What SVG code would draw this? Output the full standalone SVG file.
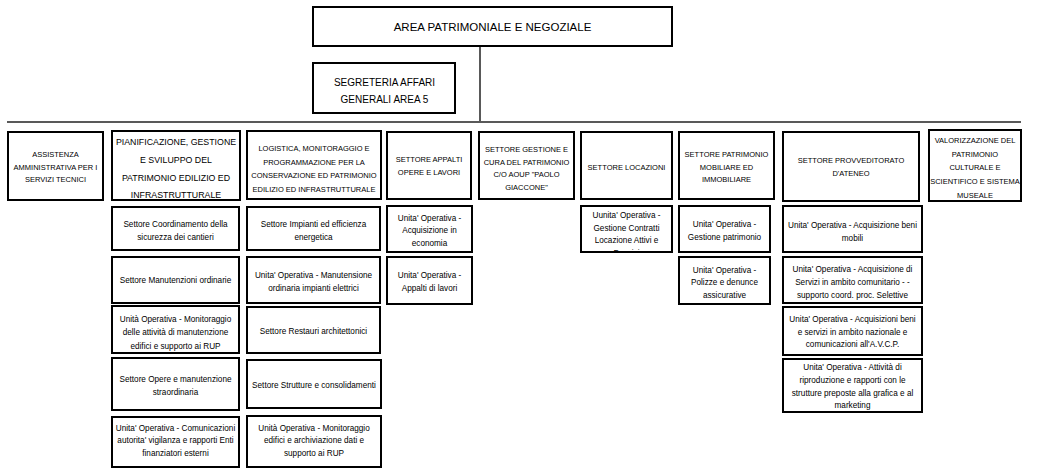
<svg xmlns="http://www.w3.org/2000/svg" width="1040" height="474" viewBox="0 0 1040 474">
<style>
.b{fill:#fff;stroke:#000;stroke-width:2}
.t{font-family:"Liberation Sans",Arial,sans-serif;fill:#000;text-anchor:middle;dominant-baseline:central}
.h{font-size:7.5px}
.s{font-size:8.2px}
.c{stroke:#595959;stroke-width:2;fill:none}
</style>
<defs>
<clipPath id="clipF1"><rect x="582" y="207" width="89" height="44"/></clipPath>
</defs>
<rect width="1040" height="474" fill="#fff"/>
<g id="connectors">
<line class="c" x1="480" y1="46" x2="480" y2="122"/>
<line class="c" x1="7" y1="122" x2="1021" y2="122"/>
</g>
<g id="top">
<rect class="b" x="313" y="7" width="359" height="39"/>
<text class="t" x="492.5" y="27" font-size="11.5">AREA PATRIMONIALE E NEGOZIALE</text>
</g>
<g id="segreteria">
<rect class="b" x="313" y="63" width="142" height="50"/>
<text class="t" x="384.5" font-size="10"><tspan x="384.5" y="81.7">SEGRETERIA AFFARI</tspan><tspan x="384.5" y="99">GENERALI AREA 5</tspan></text>
</g>
<g id="assistenza">
<rect class="b" x="8" y="132" width="95" height="68"/>
<text class="t h"><tspan x="55.5" y="154">ASSISTENZA</tspan><tspan x="55.5" y="166.5">AMMINISTRATIVA PER I</tspan><tspan x="55.5" y="179">SERVIZI TECNICI</tspan></text>
</g>
<g id="pianificazione">
<rect class="b" x="112" y="131" width="128" height="69"/>
<text class="t" font-size="8.8"><tspan x="176" y="142">PIANIFICAZIONE, GESTIONE</tspan><tspan x="176" y="160">E SVILUPPO DEL</tspan><tspan x="176" y="178">PATRIMONIO EDILIZIO ED</tspan><tspan x="176" y="195">INFRASTRUTTURALE</tspan></text>
</g>
<g id="logistica">
<rect class="b" x="247" y="131" width="134" height="68"/>
<text class="t h"><tspan x="314" y="148">LOGISTICA, MONITORAGGIO E</tspan><tspan x="314" y="161.5">PROGRAMMAZIONE PER LA</tspan><tspan x="314" y="175">CONSERVAZIONE ED PATRIMONIO</tspan><tspan x="314" y="188.5">EDILIZIO ED INFRASTRUTTURALE</tspan></text>
</g>
<g id="appalti">
<rect class="b" x="387" y="132" width="84" height="67"/>
<text class="t h"><tspan x="429" y="159">SETTORE APPALTI</tspan><tspan x="429" y="172">OPERE E LAVORI</tspan></text>
</g>
<g id="gestione-cura">
<rect class="b" x="479" y="132" width="95" height="67"/>
<text class="t h"><tspan x="526.5" y="149">SETTORE GESTIONE E</tspan><tspan x="526.5" y="161.7">CURA DEL PATRIMONIO</tspan><tspan x="526.5" y="174.4">C/O AOUP "PAOLO</tspan><tspan x="526.5" y="187">GIACCONE"</tspan></text>
</g>
<g id="locazioni">
<rect class="b" x="581" y="132" width="91" height="67"/>
<text class="t h" x="626.5" y="167">SETTORE LOCAZIONI</text>
</g>
<g id="patrimonio-mobiliare">
<rect class="b" x="679" y="132" width="95" height="67"/>
<text class="t h"><tspan x="726.5" y="154">SETTORE PATRIMONIO</tspan><tspan x="726.5" y="166.5">MOBILIARE ED</tspan><tspan x="726.5" y="179">IMMOBILIARE</tspan></text>
</g>
<g id="provveditorato">
<rect class="b" x="783" y="132" width="136" height="69"/>
<text class="t h"><tspan x="851" y="160">SETTORE PROVVEDITORATO</tspan><tspan x="851" y="173">D'ATENEO</tspan></text>
</g>
<g id="valorizzazione">
<rect class="b" x="929" y="130" width="92" height="71"/>
<text class="t h"><tspan x="975" y="140">VALORIZZAZIONE DEL</tspan><tspan x="975" y="153.7">PATRIMONIO</tspan><tspan x="975" y="167.4">CULTURALE E</tspan><tspan x="975" y="181">SCIENTIFICO E SISTEMA</tspan><tspan x="975" y="194.7">MUSEALE</tspan></text>
</g>
<g id="b1">
<rect class="b" x="112" y="207" width="127" height="43"/>
<text class="t s"><tspan x="175.5" y="224">Settore Coordinamento della</tspan><tspan x="175.5" y="237">sicurezza dei cantieri</tspan></text>
</g>
<g id="b2">
<rect class="b" x="112" y="257" width="127" height="46"/>
<text class="t s" x="175.5" y="280">Settore Manutenzioni ordinarie</text>
</g>
<g id="b3">
<rect class="b" x="112" y="306" width="127" height="47"/>
<text class="t s"><tspan x="175.5" y="318.5">Unità Operativa - Monitoraggio</tspan><tspan x="175.5" y="332">delle attività di manutenzione</tspan><tspan x="175.5" y="345.5">edifici e supporto ai RUP</tspan></text>
</g>
<g id="b4">
<rect class="b" x="112" y="358" width="127" height="52"/>
<text class="t s"><tspan x="175.5" y="378.5">Settore Opere e manutenzione</tspan><tspan x="175.5" y="391.5">straordinaria</tspan></text>
</g>
<g id="b5">
<rect class="b" x="112" y="417" width="127" height="50"/>
<text class="t s"><tspan x="175.5" y="427.5">Unita' Operativa - Comunicazioni</tspan><tspan x="175.5" y="440">autorita' vigilanza e rapporti Enti</tspan><tspan x="175.5" y="452.5">finanziatori esterni</tspan></text>
</g>
<g id="c1">
<rect class="b" x="247" y="207" width="133" height="43"/>
<text class="t s"><tspan x="313.5" y="224">Settore Impianti ed efficienza</tspan><tspan x="313.5" y="237">energetica</tspan></text>
</g>
<g id="c2">
<rect class="b" x="247" y="257" width="133" height="46"/>
<text class="t s"><tspan x="313.5" y="275">Unita' Operativa - Manutensione</tspan><tspan x="313.5" y="288">ordinaria impianti elettrici</tspan></text>
</g>
<g id="c3">
<rect class="b" x="247" y="307" width="133" height="46"/>
<text class="t s" x="313.5" y="331">Settore Restauri architettonici</text>
</g>
<g id="c4">
<rect class="b" x="247" y="360" width="134" height="48"/>
<text class="t s" x="314" y="385">Settore Strutture e consolidamenti</text>
</g>
<g id="c5">
<rect class="b" x="247" y="416" width="134" height="51"/>
<text class="t s"><tspan x="314" y="427.5">Unità Operativa - Monitoraggio</tspan><tspan x="314" y="440">edifici e archiviazione dati e</tspan><tspan x="314" y="453">supporto ai RUP</tspan></text>
</g>
<g id="d1">
<rect class="b" x="387" y="206" width="85" height="46"/>
<text class="t s"><tspan x="429.5" y="217.5">Unita' Operativa -</tspan><tspan x="429.5" y="230">Acquisizione in</tspan><tspan x="429.5" y="242.5">economia</tspan></text>
</g>
<g id="d2">
<rect class="b" x="387" y="257" width="85" height="47"/>
<text class="t s"><tspan x="429.5" y="274.5">Unita' Operativa -</tspan><tspan x="429.5" y="288">Appalti di lavori</tspan></text>
</g>
<g id="f1">
<rect class="b" x="581" y="206" width="91" height="46"/>
<text class="t s" clip-path="url(#clipF1)"><tspan x="626.5" y="215">Uunita' Operativa -</tspan><tspan x="626.5" y="227.5">Gestione Contratti</tspan><tspan x="626.5" y="240">Locazione Attivi e</tspan><tspan x="626.5" y="252.5">Passivi</tspan></text>
</g>
<g id="g1">
<rect class="b" x="679" y="206" width="91" height="46"/>
<text class="t s"><tspan x="724.5" y="224">Unita' Operativa -</tspan><tspan x="724.5" y="237">Gestione patrimonio</tspan></text>
</g>
<g id="g2">
<rect class="b" x="679" y="257" width="91" height="47"/>
<text class="t s"><tspan x="724.5" y="269.5">Unita' Operativa -</tspan><tspan x="724.5" y="282">Polizze e denunce</tspan><tspan x="724.5" y="294.5">assicurative</tspan></text>
</g>
<g id="h1">
<rect class="b" x="783" y="206" width="139" height="46"/>
<text class="t s"><tspan x="852.5" y="225">Unita' Operativa - Acquisizione beni</tspan><tspan x="852.5" y="237.5">mobili</tspan></text>
</g>
<g id="h2">
<rect class="b" x="783" y="257" width="139" height="46"/>
<text class="t s"><tspan x="852.5" y="268.5">Unita' Operativa - Acquisizione di</tspan><tspan x="852.5" y="281.5">Servizi in ambito comunitario - -</tspan><tspan x="852.5" y="294.5">supporto coord. proc. Selettive</tspan></text>
</g>
<g id="h3">
<rect class="b" x="783" y="307" width="139" height="48"/>
<text class="t s"><tspan x="852.5" y="318.5">Unita' Operativa - Acquisizioni beni</tspan><tspan x="852.5" y="331.5">e servizi in ambito nazionale e</tspan><tspan x="852.5" y="344">comunicazioni all'A.V.C.P.</tspan></text>
</g>
<g id="h4">
<rect class="b" x="783" y="359" width="139" height="53"/>
<text class="t s"><tspan x="852.5" y="367">Unita' Operativa - Attività di</tspan><tspan x="852.5" y="380">riproduzione e rapporti con le</tspan><tspan x="852.5" y="392.5">strutture preposte alla grafica e al</tspan><tspan x="852.5" y="405">marketing</tspan></text>
</g>
</svg>
